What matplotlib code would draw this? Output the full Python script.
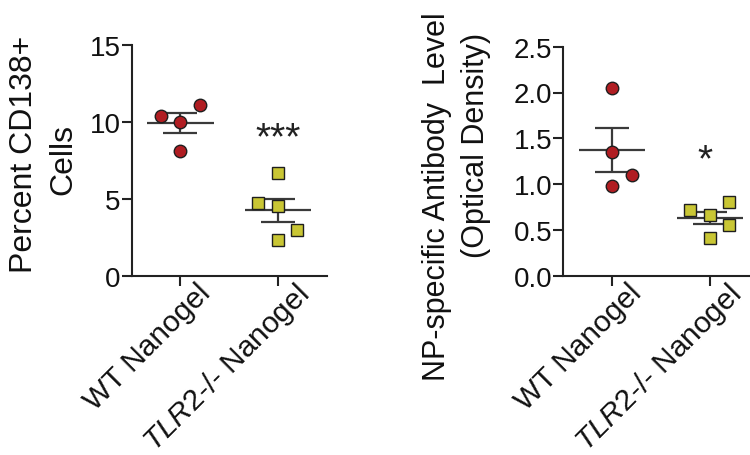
import numpy as np
import matplotlib
matplotlib.use("Agg")
import matplotlib.pyplot as plt
import matplotlib.transforms as mtransforms

plt.rcParams['font.family'] = ['Liberation Sans', 'DejaVu Sans']
plt.rcParams['mathtext.fontset'] = 'custom'
plt.rcParams['mathtext.rm'] = 'Liberation Sans'
plt.rcParams['mathtext.it'] = 'Liberation Sans:italic'

# ---- data ----
groups = ["WT Nanogel", "TLR2-/- Nanogel"]
tick_labels = ["WT Nanogel", r"$\mathit{TLR2}$-/- Nanogel"]

wt_cd138 = [10.4, 11.1, 10.0, 8.1]
wt_cd138_dx = [-0.2, 0.2, 0.0, 0.0]
tlr2_cd138 = [6.7, 4.7, 4.5, 3.0, 2.3]
tlr2_cd138_dx = [0.0, -0.2, 0.0, 0.2, 0.0]

wt_od = [2.05, 1.35, 1.10, 0.98]
wt_od_dx = [0.0, 0.0, 0.2, 0.0]
tlr2_od = [0.72, 0.66, 0.80, 0.55, 0.41]
tlr2_od_dx = [-0.2, 0.0, 0.2, 0.2, 0.0]

cd138_ticks = [0, 5, 10, 15]
cd138_ticklabels = ["0", "5", "10", "15"]
od_ticks = [0.0, 0.5, 1.0, 1.5, 2.0, 2.5]
od_ticklabels = ["0.0", "0.5", "1.0", "1.5", "2.0", "2.5"]

sig_cd138 = "***"
sig_od = "*"

# ---- style ----
RED = "#B01D22"
YEL = "#C9C634"
EDGE = "#1e1e1e"
LINE = "#3a3a3a"
W, H = 750, 456

fig = plt.figure(figsize=(7.5, 4.56), dpi=100)


def px_ax(l, b, w, h):
    return fig.add_axes([l / W, 1 - (b) / H, w / W, h / H])


def draw_panel(ax, wt, wt_dx, tl, tl_dx, yticks, yticklabels, ylim):
    for i, (vals, dx, col, mk, ms) in enumerate([
        (wt, wt_dx, RED, 'o', 9.0),
        (tl, tl_dx, YEL, 's', 9.2),
    ]):
        v = np.asarray(vals, dtype=float)
        m = v.mean()
        sem = v.std(ddof=1) / np.sqrt(len(v))
        ax.plot([i - 0.34, i + 0.34], [m, m], color=LINE, lw=1.6, zorder=2,
                solid_capstyle='butt')
        ax.errorbar([i], [m], yerr=[sem], color=LINE, lw=1.6, capsize=12,
                    capthick=1.6, zorder=2, fmt='none')
        ax.plot(i + np.asarray(dx), v, linestyle='none', marker=mk, ms=ms,
                mfc=col, mec=EDGE, mew=1.0, zorder=3)
    ax.set_xlim(-0.5, 1.5)
    ax.set_ylim(*ylim)
    ax.set_yticks(yticks)
    ax.set_yticklabels(yticklabels)
    ax.set_xticks([0, 1])
    ax.set_xticklabels(tick_labels, rotation=45, ha='right', va='top',
                       rotation_mode='anchor')
    for s in ['top', 'right']:
        ax.spines[s].set_visible(False)
    for s in ['left', 'bottom']:
        ax.spines[s].set_linewidth(1.5)
        ax.spines[s].set_color('#222222')
    ax.tick_params(axis='both', direction='out', length=7, width=1.5,
                   color='#222222', labelsize=20, labelcolor='#111111')
    ax.tick_params(axis='y', pad=1)
    ax.tick_params(axis='x', pad=2, labelsize=21.5)
    off = mtransforms.ScaledTranslation(11 / 72, 7.5 / 72, fig.dpi_scale_trans)
    for lab in ax.get_xticklabels():
        lab.set_transform(lab.get_transform() + off)
    ax.patch.set_alpha(0)


# left panel: x 131.7..326.7 px, y 45.7 (15) .. 276.7 (0)
ax1 = px_ax(131.7, 276.7, 195, 231)
draw_panel(ax1, wt_cd138, wt_cd138_dx, tlr2_cd138, tlr2_cd138_dx,
           cd138_ticks, cd138_ticklabels, (0, 15))
ax1.text(1, 8.25, sig_cd138, ha='center', va='baseline', fontsize=28,
         color='#222222')

# right panel: x 563.3.. (clipped), y 47.7 (2.5) .. 276.7 (0)
ax2 = px_ax(563.3, 276.7, 195.4, 229)
draw_panel(ax2, wt_od, wt_od_dx, tlr2_od, tlr2_od_dx,
           od_ticks, od_ticklabels, (0, 2.5))
ax2.text(0.95, 1.15, sig_od, ha='center', va='baseline', fontsize=28,
         color='#222222')

# y labels
fig.text(24 / W, 1 - 154 / H, "Percent CD138+", rotation=90, ha='center',
         va='center', fontsize=23, color='#111111')
fig.text(63 / W, 1 - 160 / H, "Cells", rotation=90, ha='center',
         va='center', fontsize=23, color='#111111')
fig.text(437 / W, 1 - 197 / H, "NP-specific Antibody  Level", rotation=90,
         ha='center', va='center', fontsize=22, color='#111111')
fig.text(476 / W, 1 - 145 / H, "(Optical Density)", rotation=90,
         ha='center', va='center', fontsize=22, color='#111111')

fig.savefig("out.png", dpi=100, facecolor='white')
